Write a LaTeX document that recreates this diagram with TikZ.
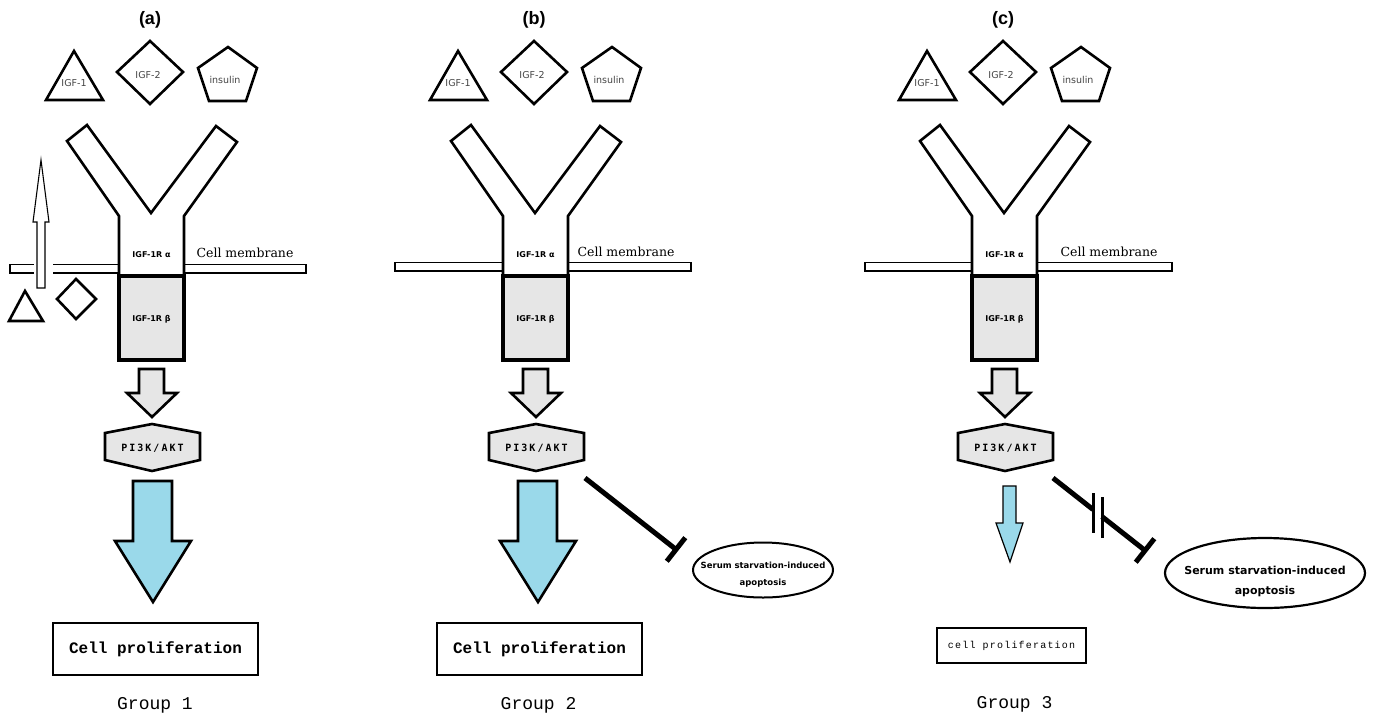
\documentclass[tikz,border=0pt]{standalone}
\usepackage{fontspec}
\setmainfont{DejaVu Sans}
\newfontfamily\fTitle{Liberation Sans}
\newfontfamily\fMono{Liberation Mono}
\newfontfamily\fPI[LetterSpace=20]{DejaVu Sans Mono}
\newfontfamily\fCP[LetterSpace=12]{Liberation Mono}
\newfontfamily\fSerif{DejaVu Serif}
\usetikzlibrary{arrows.meta,shapes.geometric}
\definecolor{boxgray}{HTML}{E6E6E6}
\definecolor{pblue}{HTML}{9AD9EA}
\definecolor{liggray}{HTML}{444444}
\tikzset{
 outl/.style={draw=black, line width=2.6pt, line join=miter},
 ligtxt/.style={font=\fontsize{9.5}{11}\selectfont, text=liggray, inner sep=0pt},
 ttl/.style={font=\fTitle\bfseries\fontsize{18}{20}\selectfont, inner sep=0pt},
 rtxt/.style={font=\bfseries\fontsize{8}{10}\selectfont, inner sep=0pt},
 memtxt/.style={font=\fSerif\fontsize{12.5}{14}\selectfont, inner sep=0pt},
 membr/.style={draw=black, line width=1.2pt, fill=white},
 grayarr/.style={draw=black, line width=2.6pt, fill=boxgray, line join=miter},
 bluearr/.style={draw=black, line width=2.6pt, fill=pblue, line join=miter},
 pitxt/.style={font=\fPI\bfseries\fontsize{10}{11}\selectfont, inner sep=0pt},
 cpbox/.style={draw=black, line width=2.6pt, fill=white, inner sep=0pt, font=\fMono\bfseries\fontsize{16}{18}\selectfont},
 cpsmall/.style={draw=black, line width=2pt, fill=white, inner sep=0pt, font=\fCP\fontsize{10}{12}\selectfont},
 grptxt/.style={font=\fMono\fontsize{18}{20}\selectfont, inner sep=0pt},
 inhib/.style={draw=black, line width=5pt},
 apoell/.style={draw=black, ellipse, inner sep=0pt},
}
\newcommand\receptorpanel[2]{%
 \node[ttl] (#1-title) at (-1,20) {(#2)};
 \draw[outl] (-77,51) -- (-48,100) -- (-105,100) -- cycle;
 \node[ligtxt] (#1-igf1) at (-77,83) {IGF-1};
 \draw[outl] (-1,41) -- (32,72) -- (-1,104) -- (-34,72) -- cycle;
 \node[ligtxt] (#1-igf2) at (-3,75) {IGF-2};
 \draw[outl] (77,47) -- (106,68) -- (95,101) -- (58,101) -- (47,68) -- cycle;
 \node[ligtxt] (#1-ins) at (74,80) {insulin};
 \fill[white] (-32,216) rectangle (33,276);
 \draw[outl] (-32,276) -- (-32,216) -- (-84,141) -- (-64,125) -- (0,213) -- (65,126) -- (86,142) -- (33,216) -- (33,276);
 \node[rtxt] (#1-alpha) at (0.5,255) {IGF-1R α};
 \draw[outl, line width=3.5pt, fill=boxgray] (-32,276) rectangle (33,360);
 \node[rtxt] (#1-beta) at (0.5,319) {IGF-1R β};
 \draw[grayarr] (-12,369) -- (13,369) -- (13,393) -- (26,393) -- (1,417) -- (-24,393) -- (-12,393) -- cycle;
 \draw[grayarr] (1,424) -- (49,433) -- (49,460) -- (1,471) -- (-46,460) -- (-46,433) -- cycle;
 \node[pitxt] (#1-pi) at (1.5,448) {PI3K/AKT};
}
\begin{document}
\begin{tikzpicture}[x=1pt,y=-1pt]
\useasboundingbox (0,0) rectangle (1373,718);
% ---------------- panel a
\begin{scope}[xshift=151pt]
 \draw[membr] (-141,264.5) rectangle (155,273);
 \node[memtxt] (a-mem) at (94,253) {Cell membrane};
 \receptorpanel{a}{a}
 \draw[bluearr] (-18,481) -- (21,481) -- (21,541) -- (40,541) -- (2,602) -- (-36,541) -- (-18,541) -- cycle;
 \node[cpbox, minimum width=205pt, minimum height=52pt] (a-cp) at (4.5,649) {Cell proliferation};
 \node[grptxt] (a-grp) at (4,705) {Group 1};
\end{scope}
\fill[white] (33.5,263) rectangle (52.5,275);
\draw[line width=1.1pt, fill=white] (41,160) -- (49,222) -- (45,222) -- (45,288) -- (37,288) -- (37,222) -- (33,222) -- cycle;
\draw[outl] (25,291) -- (43,321) -- (9,321) -- cycle;
\draw[outl] (76,279) -- (96,299) -- (76,319) -- (57,299) -- cycle;
% ---------------- panel b
\begin{scope}[xshift=535pt]
 \draw[membr] (-140,262.5) rectangle (156,271);
 \node[memtxt] (b-mem) at (91,252) {Cell membrane};
 \receptorpanel{b}{b}
 \draw[bluearr] (-17,481) -- (22,481) -- (22,541) -- (41,541) -- (3,602) -- (-35,541) -- (-17,541) -- cycle;
 \node[cpbox, minimum width=205pt, minimum height=52pt] (b-cp) at (4.5,649) {Cell proliferation};
 \node[grptxt] (b-grp) at (3.5,705) {Group 2};
\end{scope}
\node[apoell, line width=2pt, minimum width=140pt, minimum height=55pt] (b-apo) at (763,570) {};
\node[font=\bfseries\fontsize{8.5}{17}\selectfont, align=center, inner sep=0pt] (b-apotxt) at (763,575) {Serum starvation-induced\\apoptosis};
\coordinate (b-is) at (585,478);
\coordinate (b-ie) at (678,551);
\draw[inhib, -{Bar[width=30pt]}] (b-is) -- (b-ie);
% ---------------- panel c
\begin{scope}[xshift=1004pt]
 \draw[membr] (-139,262.5) rectangle (168,271);
 \node[memtxt] (c-mem) at (105,252) {Cell membrane};
 \receptorpanel{c}{c}
 \draw[bluearr, line width=1.2pt] (-1,486) -- (12,486) -- (12,523) -- (19,523) -- (6,562) -- (-8,523) -- (-1,523) -- cycle;
 \node[cpsmall, minimum width=149pt, minimum height=35pt] (c-cp) at (7.5,645.5) {cell proliferation};
 \node[grptxt] (c-grp) at (10.5,704) {Group 3};
\end{scope}
\node[apoell, line width=2.2pt, minimum width=200pt, minimum height=70pt] (c-apo) at (1265,573) {};
\node[font=\bfseries\fontsize{11}{20}\selectfont, align=center, inner sep=0pt] (c-apotxt) at (1265,581) {Serum starvation-induced\\apoptosis};
\coordinate (c-is) at (1053,478);
\coordinate (c-g1) at (1093,509.5);
\coordinate (c-g2) at (1102,516.6);
\coordinate (c-ie) at (1147,552);
\draw[inhib] (c-is) -- (c-g1);
\draw[inhib, -{Bar[width=30pt]}] (c-g2) -- (c-ie);
\draw[line width=3pt] (1093,493) -- (1093,533);
\draw[line width=3pt] (1102,497) -- (1102,538);
\end{tikzpicture}
\end{document}
